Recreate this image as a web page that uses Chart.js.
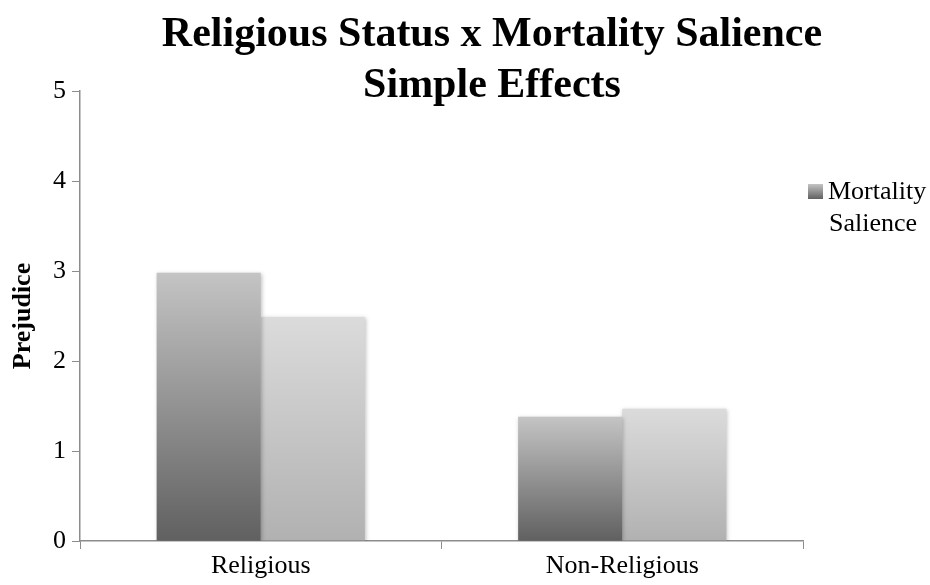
<!DOCTYPE html>
<html>
<head>
<meta charset="utf-8">
<script src="https://cdn.jsdelivr.net/npm/chart.js@4.4.1/dist/chart.umd.min.js"></script>
<style>
  html, body { margin: 0; padding: 0; background: #fff; }
  #wrap { width: 930px; height: 585px; }
</style>
</head>
<body>
<div id="wrap"><canvas id="myChart" width="930" height="585"></canvas></div>
<script>
const categories = ['Religious', 'Non-Religious'];
const mortalitySalience = [2.98, 1.38];
const secondSeries = [2.49, 1.47];
const yTicks = [0, 1, 2, 3, 4, 5];
const titleLines = ['Religious Status x Mortality Salience', 'Simple Effects'];
const legendLines = ['Mortality', 'Salience'];

const SERIF = '"Liberation Serif", "Times New Roman", serif';

// each bar gets its own vertical gradient, dark at the bottom
function barGradient(bottomColor, topColor) {
    return (context) => {
        const chart = context.chart;
        if (!chart.chartArea || context.type !== 'data') {
            return bottomColor;
        }
        const y = chart.scales.y;
        const value = context.dataset.data[context.dataIndex];
        const top = y.getPixelForValue(value);
        const bottom = y.getPixelForValue(0);
        const g = chart.ctx.createLinearGradient(0, bottom, 0, top);
        g.addColorStop(0, bottomColor);
        g.addColorStop(1, topColor);
        return g;
    };
}

const titlePlugin = {
    id: 'titleText',
    afterDraw(chart) {
        const ctx = chart.ctx;
        ctx.save();
        ctx.fillStyle = '#000';
        ctx.font = 'bold 42px ' + SERIF;
        ctx.textAlign = 'center';
        ctx.textBaseline = 'alphabetic';
        ctx.fillText(titleLines[0], 492, 46);
        ctx.fillText(titleLines[1], 492, 97);
        ctx.restore();
    }
};

const legendPlugin = {
    id: 'sideLegend',
    afterDraw(chart) {
        const ctx = chart.ctx;
        ctx.save();
        const g = ctx.createLinearGradient(0, 199, 0, 184);
        g.addColorStop(0, '#606060');
        g.addColorStop(1, '#c4c4c4');
        ctx.fillStyle = g;
        ctx.fillRect(808, 184, 15, 15);
        ctx.fillStyle = '#000';
        ctx.font = '26px ' + SERIF;
        ctx.textAlign = 'left';
        ctx.textBaseline = 'alphabetic';
        ctx.fillText(legendLines[0], 828, 199);
        ctx.fillText(legendLines[1], 829, 231);
        ctx.restore();
    }
};

const shadowPlugin = {
    id: 'barShadow',
    beforeDatasetsDraw(chart) {
        const ctx = chart.ctx;
        ctx.save();
        ctx.shadowColor = 'rgba(0,0,0,0.25)';
        ctx.shadowBlur = 4;
        ctx.shadowOffsetX = 1;
        ctx.shadowOffsetY = 1;
    },
    afterDatasetsDraw(chart) {
        chart.ctx.restore();
    }
};

const data = {
    labels: categories,
    datasets: [
        {
            label: 'Mortality Salience',
            data: mortalitySalience,
            backgroundColor: barGradient('#606060', '#c4c4c4'),
            categoryPercentage: 0.576,
            barPercentage: 1,
            borderWidth: 0
        },
        {
            label: '',
            data: secondSeries,
            backgroundColor: barGradient('#b1b1b1', '#dbdbdb'),
            categoryPercentage: 0.576,
            barPercentage: 1,
            borderWidth: 0
        }
    ]
};

const config = {
    type: 'bar',
    data: data,
    options: {
        responsive: false,
        animation: false,
        layout: {
            padding: { top: 91, right: 127, bottom: 0, left: 0 }
        },
        plugins: {
            legend: { display: false },
            title: { display: false },
            tooltip: { enabled: false }
        },
        scales: {
            x: {
                grid: {
                    offset: true,
                    drawOnChartArea: false,
                    drawTicks: true,
                    tickLength: 8,
                    color: '#8c8c8c'
                },
                border: { color: '#8c8c8c', width: 1.5 },
                ticks: {
                    color: '#000',
                    font: { family: SERIF, size: 26 },
                    padding: 2
                },
                afterFit(scale) { scale.height = 44; }
            },
            y: {
                min: 0,
                max: 5,
                afterBuildTicks(scale) {
                    scale.ticks = yTicks.map(v => ({ value: v }));
                },
                grid: {
                    drawOnChartArea: false,
                    drawTicks: true,
                    tickLength: 8,
                    color: '#8c8c8c'
                },
                border: { color: '#8c8c8c', width: 1.5 },
                ticks: {
                    color: '#000',
                    font: { family: SERIF, size: 26 },
                    padding: 6
                },
                title: {
                    display: true,
                    text: 'Prejudice',
                    color: '#000',
                    font: { family: SERIF, size: 26, weight: 'bold' },
                    padding: { top: 8, bottom: 0 }
                },
                afterFit(scale) { scale.width = 80; }
            }
        }
    },
    plugins: [shadowPlugin, titlePlugin, legendPlugin]
};

new Chart(document.getElementById('myChart'), config);
</script>
</body>
</html>
